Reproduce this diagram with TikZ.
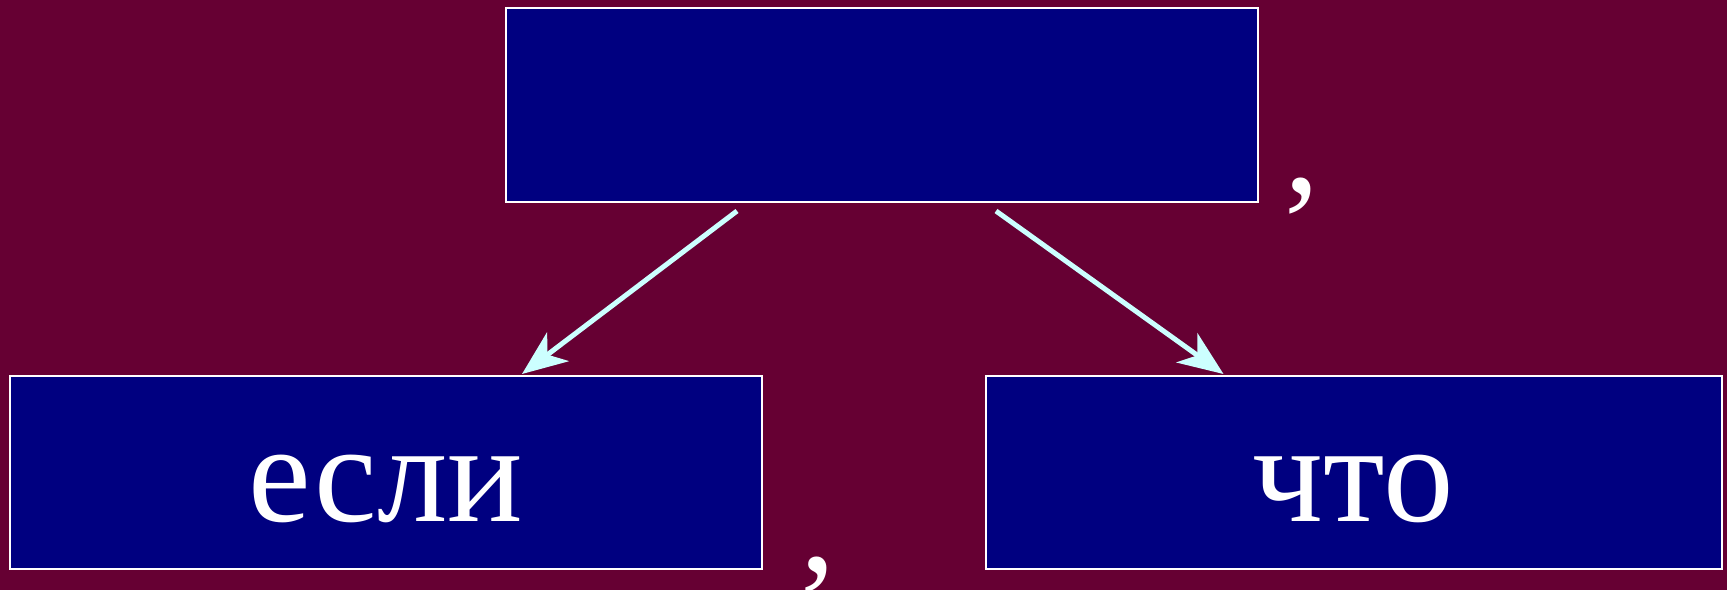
\documentclass[tikz,border=0pt]{standalone}
\usepackage{fontspec}
\setmainfont{Liberation Serif}
\usetikzlibrary{arrows.meta,calc}
\definecolor{bgred}{RGB}{102,0,51}
\definecolor{boxblue}{RGB}{0,0,128}
\definecolor{arrcyan}{RGB}{204,255,255}
\begin{document}
\begin{tikzpicture}[x=1pt,y=-1pt,
  wordbox/.style={draw=white, line width=2pt, fill=boxblue, rectangle,
    inner sep=0pt, text=white, font=\fontsize{141}{143}\selectfont,
    text height=97pt, text depth=0pt},
  comma/.style={text=white, font=\fontsize{141}{143}\selectfont, anchor=base, inner sep=0pt},
  arr/.style={draw=arrcyan, line width=5pt,
    -{Stealth[length=45pt, width=36pt, inset=13pt, fill=arrcyan]}}]
  \fill[bgred] (0,0) rectangle (1727,590);
  \useasboundingbox (0,0) rectangle (1727,590);
  \node[wordbox, minimum width=752pt, minimum height=194pt] (top) at (882,105) {};
  \node[wordbox, minimum width=752pt, minimum height=193pt] (left) at (386,472.5) {если};
  \node[wordbox, minimum width=736pt, minimum height=193pt] (right) at (1353.5,472.5) {что};
  \node[comma] (c1) at (1302.5,192) {,};
  \node[comma] (c2) at (818,571) {,};
  \draw[arr] ($(top.south west)+(232,8)$) -- ($(left.north west)+(513,-1)$);
  \draw[arr] ($(top.south west)+(491,8)$) -- ($(right.north west)+(239,-1)$);
\end{tikzpicture}
\end{document}
